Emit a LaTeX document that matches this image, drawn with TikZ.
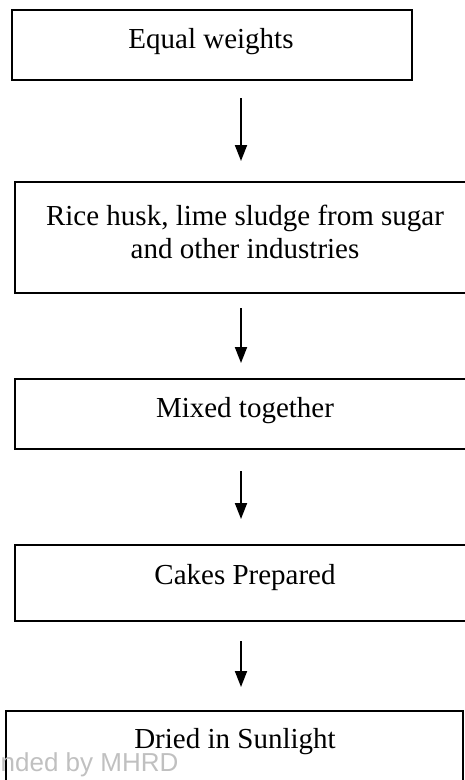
\documentclass[tikz,border=0pt]{standalone}
\usepackage{fontspec}
\setmainfont{Liberation Serif}
\newfontfamily\wmfont{Liberation Sans}
\usetikzlibrary{arrows.meta}
\definecolor{wmgray}{RGB}{192,192,192}
\tikzset{
  flowbox/.style={draw=black, line width=1.6pt, rectangle, inner sep=0pt, outer sep=0pt},
  txt/.style={anchor=base, inner sep=0pt, font=\fontsize{29}{33}\selectfont},
  flowarrow/.style={line width=1.8pt, -{Triangle[width=12pt,length=16pt]}}
}
\begin{document}
\begin{tikzpicture}[x=1pt,y=-1pt]
\useasboundingbox (0,0) rectangle (464,780);
% boxes
\node[flowbox, minimum width=400pt, minimum height=70pt] (b1) at (212,45) {};
\node[flowbox, minimum width=460pt, minimum height=111pt] (b2) at (245,237.5) {};
\node[flowbox, minimum width=460pt, minimum height=70pt] (b3) at (245,414) {};
\node[flowbox, minimum width=460pt, minimum height=76pt] (b4) at (245,583) {};
\node[flowbox, minimum width=457pt, minimum height=100pt] (b5) at (234.5,761) {};
% texts
\node[txt] (t1) at (211,48) {Equal weights};
\node[txt] (t2a) at (245,225) {Rice husk, lime sludge from sugar};
\node[txt] (t2b) at (245,258) {and other industries};
\node[txt] (t3) at (245,417) {Mixed together};
\node[txt] (t4) at (245,584) {Cakes Prepared};
\node[txt] (t5) at (235,748) {Dried in Sunlight};
% arrow end points
\coordinate (a1s) at (241,98);  \coordinate (a1e) at (241,161);
\coordinate (a2s) at (241,308); \coordinate (a2e) at (241,363);
\coordinate (a3s) at (241,471); \coordinate (a3e) at (241,519);
\coordinate (a4s) at (241,641); \coordinate (a4e) at (241,687);
\draw[flowarrow] (a1s) -- (a1e);
\draw[flowarrow] (a2s) -- (a2e);
\draw[flowarrow] (a3s) -- (a3e);
\draw[flowarrow] (a4s) -- (a4e);
% watermark
\node[anchor=base west, inner sep=0pt, text=wmgray, font=\wmfont\fontsize{26}{30}\selectfont] (wm) at (0.5,771) {nded by MHRD};
\end{tikzpicture}
\end{document}
